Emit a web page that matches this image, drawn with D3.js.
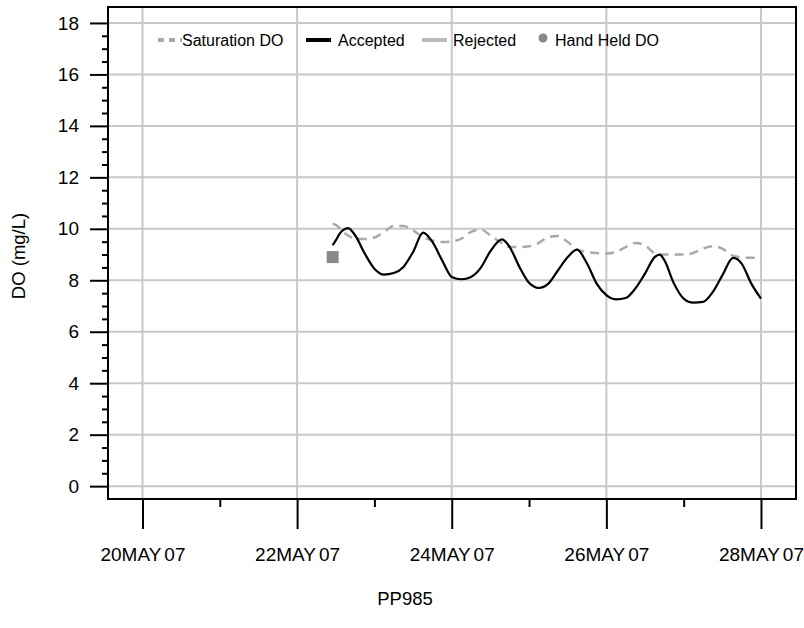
<!DOCTYPE html>
<html><head><meta charset="utf-8">
<script src="https://cdn.jsdelivr.net/npm/d3@7"></script>
<style>
html,body{margin:0;padding:0;background:#fff;}
text{font-family:"Liberation Sans",Arial,sans-serif;fill:#000;}
</style></head>
<body>
<svg id="chart" width="804" height="628"></svg>
<script>
// ---- data (times are fractional days of May 2007) ----
const acceptedTime = [22.46,22.50,22.56,22.625,22.66,22.75,22.875,23.0,23.125,23.25,23.375,23.5,23.63,23.75,23.875,24.0,24.125,24.25,24.375,24.5,24.65,24.75,24.875,25.0,25.125,25.25,25.375,25.5,25.62,25.75,25.875,26.0,26.125,26.25,26.375,26.5,26.625,26.69,26.75,26.875,27.0,27.125,27.25,27.375,27.5,27.64,27.75,27.875,28.0];
const acceptedDO   = [9.36,9.55,9.85,10.0,10.03,9.75,9.04,8.45,8.22,8.28,8.52,9.10,9.85,9.49,8.78,8.13,8.04,8.13,8.48,9.13,9.59,9.29,8.52,7.90,7.70,7.87,8.39,8.90,9.19,8.65,7.87,7.42,7.26,7.31,7.68,8.26,8.90,9.00,8.78,7.87,7.29,7.13,7.16,7.54,8.19,8.87,8.65,7.87,7.29];
const saturationTime = [22.46,22.5,22.625,22.75,22.875,23.0,23.125,23.25,23.375,23.5,23.625,23.75,23.875,24.0,24.125,24.25,24.375,24.5,24.625,24.75,24.875,25.0,25.125,25.25,25.375,25.5,25.625,25.75,25.875,26.0,26.125,26.25,26.375,26.5,26.625,26.75,26.875,27.0,27.125,27.25,27.375,27.5,27.625,27.75,27.875,28.0];
const saturationDO   = [10.2,10.15,9.81,9.62,9.60,9.66,9.88,10.11,10.11,9.94,9.68,9.55,9.49,9.51,9.62,9.88,9.97,9.75,9.49,9.29,9.29,9.32,9.45,9.68,9.72,9.49,9.19,9.10,9.06,9.04,9.10,9.29,9.45,9.36,9.06,9.00,9.00,9.00,9.06,9.23,9.32,9.23,8.97,8.90,8.88,8.88];
const handHeldTime = [22.46];
const handHeldDO   = [8.9];
const majorDays = [20,22,24,26,28];
const minorDays = [21,23,25,27];
const yMajor = [0,2,4,6,8,10,12,14,16,18];
const legendNames = ["Saturation DO","Accepted","Rejected","Hand Held DO"];
const xTitle = "PP985";
const yTitle = "DO (mg/L)";

const day = d => new Date(Date.UTC(2007,4,0) + d*864e5);

const svg = d3.select("#chart");
const L=108, R=796, T=7, B=499;
const x = d3.scaleUtc().domain([day(19.554), day(28.453)]).range([L,R]);
const y = d3.scaleLinear().domain([-0.5, 18.62]).range([B,T]);
const grid = "#c8c8c8";
const FONT = "Liberation Sans, Arial, sans-serif";
const TXT = "#111";

// grid
svg.append("g").selectAll("line").data(majorDays).join("line")
  .attr("x1",d=>x(day(d))).attr("x2",d=>x(day(d))).attr("y1",T).attr("y2",B)
  .attr("stroke",grid).attr("stroke-width",2);
svg.append("g").selectAll("line").data(yMajor).join("line")
  .attr("x1",L).attr("x2",R).attr("y1",d=>y(d)).attr("y2",d=>y(d))
  .attr("stroke",grid).attr("stroke-width",2);

// y axis
const yMinor = d3.range(0, 18.01, 0.5).filter(v => v % 2 !== 0);
const ya = svg.append("g").attr("transform",`translate(${L},0)`);
ya.call(d3.axisLeft(y).tickValues(yMinor).tickSize(6).tickFormat(""));
const yb = svg.append("g").attr("transform",`translate(${L},0)`);
yb.call(d3.axisLeft(y).tickValues(yMajor).tickSize(18).tickPadding(11).tickFormat(d3.format("d")));
yb.selectAll(".tick text").attr("font-size",19).attr("font-family",FONT).attr("fill",TXT);
svg.selectAll(".domain").remove();

// x axis
const fmtDM = d3.utcFormat("%d%b");
const fmtY = d3.utcFormat("%y");
const xa = svg.append("g").attr("transform",`translate(0,${B})`);
xa.call(d3.axisBottom(x).tickValues(minorDays.map(day)).tickSize(8).tickFormat(""));
const xb = svg.append("g").attr("transform",`translate(0,${B})`);
xb.call(d3.axisBottom(x).tickValues(majorDays.map(day)).tickSize(30).tickPadding(19).tickFormat(""));
xb.selectAll(".tick").append("text")
  .attr("y",49).attr("dy","0.71em").attr("text-anchor","middle")
  .attr("font-size",19).attr("font-family",FONT).attr("fill",TXT)
  .each(function(d){
    const t = d3.select(this);
    t.append("tspan").text(fmtDM(d).toUpperCase());
    t.append("tspan").attr("dx",3).text(fmtY(d));
  });
svg.selectAll(".tick line").attr("stroke-width",2).attr("stroke","#000");
svg.selectAll(".domain").remove();

// border
svg.append("rect").attr("x",L).attr("y",T).attr("width",R-L).attr("height",B-T)
  .attr("fill","none").attr("stroke","#000").attr("stroke-width",2);

// series
const sat = saturationTime.map((t,i)=>[day(t),saturationDO[i]]);
const acc = acceptedTime.map((t,i)=>[day(t),acceptedDO[i]]);
const line = d3.line().x(d=>x(d[0])).y(d=>y(d[1])).curve(d3.curveMonotoneX);
svg.append("path").attr("d",line(sat)).attr("fill","none").attr("stroke","#aaaaaa")
  .attr("stroke-width",2.5).attr("stroke-dasharray","9,6");
svg.append("path").attr("d",line(acc)).attr("fill","none").attr("stroke","#000")
  .attr("stroke-width",2.2);
svg.append("g").selectAll("rect").data(handHeldTime.map((t,i)=>[day(t),handHeldDO[i]])).join("rect")
  .attr("x",d=>x(d[0])-6).attr("y",d=>y(d[1])-6).attr("width",12).attr("height",12)
  .attr("fill","#888");

// legend
const lg = svg.append("g").attr("font-size",16).attr("font-family",FONT).attr("fill",TXT);
const ly = 40;
lg.append("line").attr("x1",158).attr("x2",182).attr("y1",ly).attr("y2",ly)
  .attr("stroke","#aaa").attr("stroke-width",4).attr("stroke-dasharray","6,5");
lg.append("text").attr("x",182).attr("y",ly+6).text(legendNames[0]);
lg.append("line").attr("x1",306).attr("x2",331).attr("y1",ly).attr("y2",ly)
  .attr("stroke","#000").attr("stroke-width",4);
lg.append("text").attr("x",338).attr("y",ly+6).text(legendNames[1]);
lg.append("line").attr("x1",422).attr("x2",447).attr("y1",ly).attr("y2",ly)
  .attr("stroke","#bbb").attr("stroke-width",4);
lg.append("text").attr("x",453).attr("y",ly+6).text(legendNames[2]);
lg.append("circle").attr("cx",543).attr("cy",ly-2).attr("r",4.5).attr("fill","#888");
lg.append("text").attr("x",555).attr("y",ly+6).text(legendNames[3]);

// titles
svg.append("text").attr("x",405).attr("y",605).attr("text-anchor","middle")
  .attr("font-size",18.5).attr("font-family",FONT).attr("fill",TXT).text(xTitle);
svg.append("text").attr("transform",`translate(25,256) rotate(-90)`)
  .attr("text-anchor","middle").attr("font-size",18.5).attr("font-family",FONT).attr("fill",TXT).text(yTitle);
</script>
</body></html>
